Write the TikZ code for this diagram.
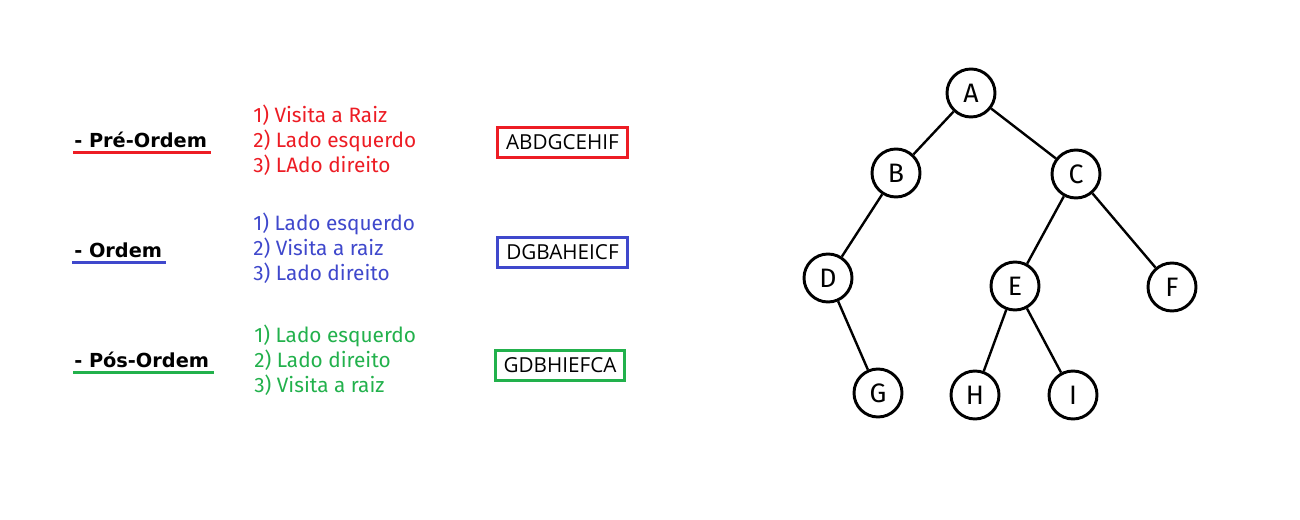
\documentclass[tikz,border=0pt]{standalone}
\usepackage{fontspec}
\setmainfont{Fira Sans}
\newfontfamily\boxfont{Open Sans}
\newfontfamily\titlefont{DejaVu Sans}
\definecolor{pred}{HTML}{ED1C24}
\definecolor{pblue}{HTML}{3F48CC}
\definecolor{pgreen}{HTML}{22B14C}
\begin{document}
\begin{tikzpicture}[x=0.75pt,y=-0.75pt,
  tnode/.style={circle,draw=black,line width=2.2pt,minimum size=36pt,inner sep=0pt,font=\fontsize{20}{20}\selectfont},
  edge/.style={line width=1.8pt},
  title/.style={anchor=base west,inner sep=0pt,font=\titlefont\fontsize{14.5}{14.5}\selectfont\bfseries},
  steps/.style={anchor=west,inner sep=0pt,align=left,font=\fontsize{15.6}{18.75}\selectfont},
  res/.style={draw,line width=2.2pt,minimum width=97pt,minimum height=23pt,inner sep=0pt,font=\boxfont\fontsize{15.5}{15.5}\selectfont},
  uline/.style={line width=2.2pt}]
\useasboundingbox (0,0) rectangle (1300,520);
\fill[white] (0,0) rectangle (1300,520);
% titles
\node[title] (t1) at (74,147.5) {- Pré-Ordem};
\node[title] (t2) at (74,257.5) {- Ordem};
\node[title] (t3) at (74,367.5) {- Pós-Ordem};
\coordinate (u1a) at (73,152.5); \coordinate (u1b) at (211,152.5);
\coordinate (u2a) at (72,262.5); \coordinate (u2b) at (166,262.5);
\coordinate (u3a) at (73,372.5); \coordinate (u3b) at (214,372.5);
\draw[uline,pred] (u1a) -- (u1b);
\draw[uline,pblue] (u2a) -- (u2b);
\draw[uline,pgreen] (u3a) -- (u3b);
% steps
\node[steps,text=pred] (s1) at (253,140) {1) Visita a Raiz\\2) Lado esquerdo\\3) LAdo direito};
\node[steps,text=pblue] (s2) at (253,248) {1) Lado esquerdo\\2) Visita a raiz\\3) Lado direito};
\node[steps,text=pgreen] (s3) at (254,360) {1) Lado esquerdo\\2) Lado direito\\3) Visita a raiz};
% results
\node[res,draw=pred] (r1) at (562.5,142.5) {ABDGCEHIF};
\node[res,draw=pblue] (r2) at (562.5,252.5) {DGBAHEICF};
\node[res,draw=pgreen] (r3) at (560,365.5) {GDBHIEFCA};
% tree
\node[tnode] (A) at (971,93) {A};
\node[tnode] (B) at (896,173) {B};
\node[tnode] (C) at (1076,174) {C};
\node[tnode] (D) at (828,278) {D};
\node[tnode] (E) at (1015,286) {E};
\node[tnode] (F) at (1172,287) {F};
\node[tnode] (G) at (878,393) {G};
\node[tnode] (H) at (975,395) {H};
\node[tnode] (I) at (1073,395) {I};
\draw[edge] (A) -- (B);
\draw[edge] (A) -- (C);
\draw[edge] (B) -- (D);
\draw[edge] (D) -- (G);
\draw[edge] (C) -- (E);
\draw[edge] (C) -- (F);
\draw[edge] (E) -- (H);
\draw[edge] (E) -- (I);
\end{tikzpicture}
\end{document}
